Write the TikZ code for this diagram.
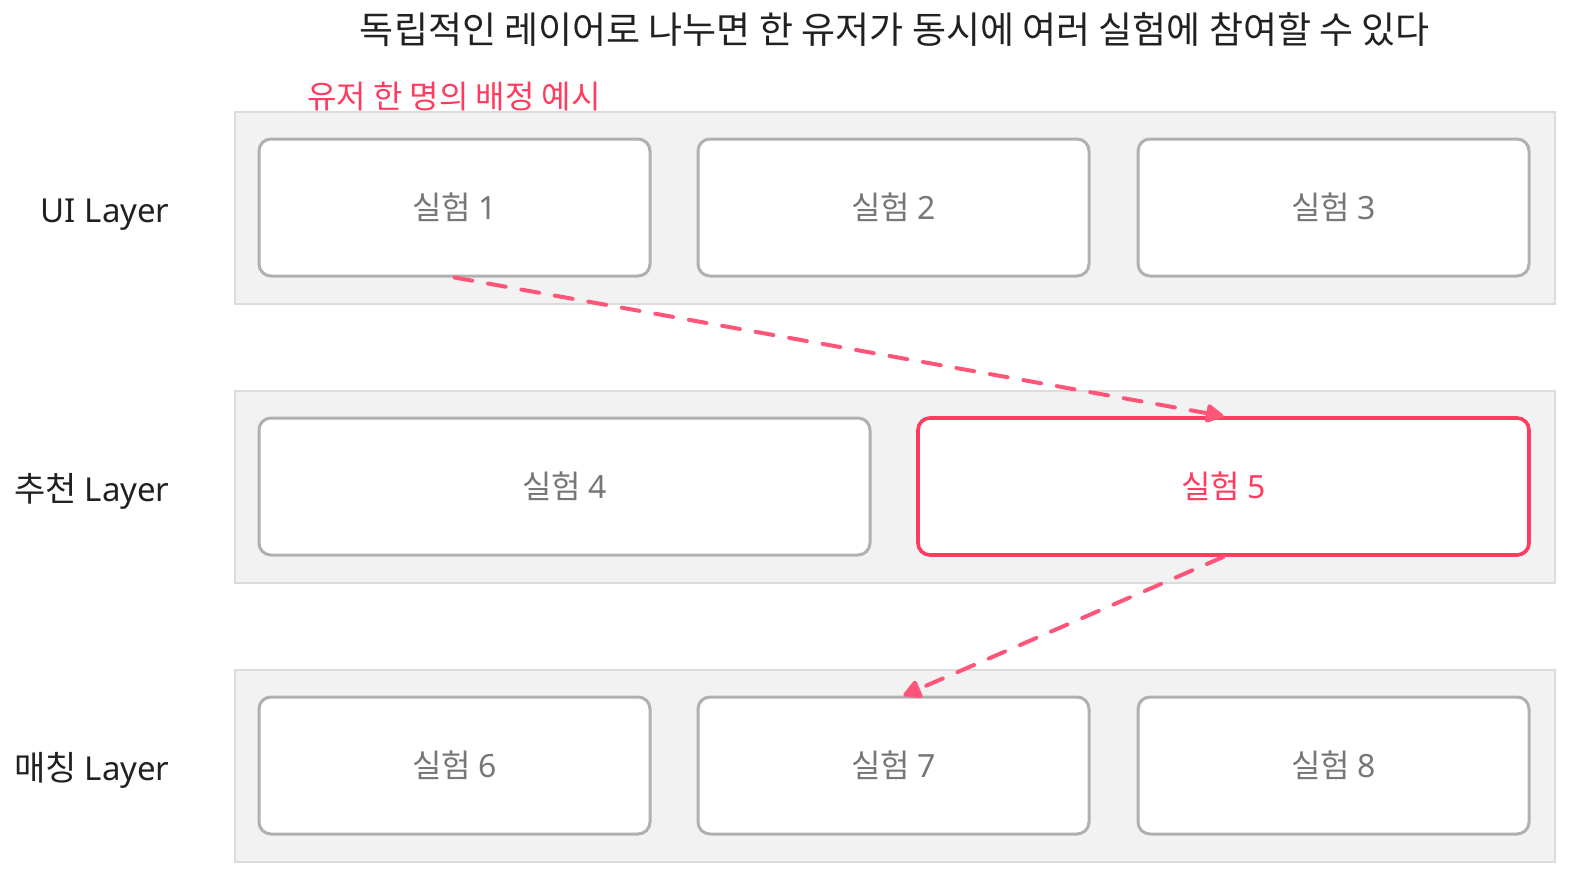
\documentclass[tikz,border=0pt]{standalone}
\usepackage{fontspec}
\setmainfont{Noto Sans CJK KR}
\newfontfamily\latinfont{Noto Sans}
\usetikzlibrary{positioning,arrows.meta,calc}
\definecolor{layerfill}{HTML}{F2F2F2}
\definecolor{layerline}{HTML}{DCDCDC}
\definecolor{boxline}{HTML}{B0B0B0}
\definecolor{boxtext}{HTML}{777777}
\definecolor{pickred}{HTML}{FF3B5F}
\definecolor{arrowred}{HTML}{FF5578}

\begin{document}
\begin{tikzpicture}[x=0.5pt,y=-0.5pt,
  layer/.style={draw=layerline,fill=layerfill,line width=1pt,minimum width=660pt,minimum height=96pt},
  expbox/.style={draw=boxline,fill=white,line width=1.5pt,rounded corners=6pt,minimum height=68.5pt,text=boxtext,font=\fontsize{16}{19}\selectfont},
  narrow/.style={expbox,minimum width=195.5pt},
  wide/.style={expbox,minimum width=305.5pt},
  layername/.style={anchor=base east,inner sep=0pt,text=black!87,font=\fontsize{17}{20}\selectfont},
  pick/.style={dash pattern=on 9pt off 8pt,line cap=round,line width=2pt,arrowred,-{Triangle[length=10pt,width=10pt,round]}}]
  \useasboundingbox (0,0) rectangle (1582,884);
  \node [text=black!87,font=\fontsize{18.5}{22}\selectfont] (title) at (895,30) {독립적인 레이어로 나누면 한 유저가 동시에 여러 실험에 참여할 수 있다};
  \node [text=pickred,font=\fontsize{16}{19}\selectfont] (note) at (454,97) {유저 한 명의 배정 예시};
  % layers
  \node [layer] (ui) at (895,208) {};
  \node [layer] (rec) at (895,487) {};
  \node [layer] (match) at (895,766) {};
  \node [layername] (uiname) at (170,222) {{\latinfont\fontsize{16.5}{20}\selectfont UI Layer}};
  \node [layername] (recname) at (170,501) {추천 {\latinfont\fontsize{16.5}{20}\selectfont Layer}};
  \node [layername] (matchname) at (170,780) {매칭 {\latinfont\fontsize{16.5}{20}\selectfont Layer}};
  % experiments
  \node [narrow] (e1) at (454.5,207.5) {실험 {\latinfont 1}};
  \node [narrow] (e2) at (893.5,207.5) {실험 {\latinfont 2}};
  \node [narrow] (e3) at (1333.5,207.5) {실험 {\latinfont 3}};
  \node [wide] (e4) at (564.5,486.5) {실험 {\latinfont 4}};
  \node [wide,draw=pickred,line width=1.8pt,text=pickred] (e5) at (1223.5,486.5) {실험 {\latinfont 5}};
  \node [narrow] (e6) at (454.5,765.5) {실험 {\latinfont 6}};
  \node [narrow] (e7) at (893.5,765.5) {실험 {\latinfont 7}};
  \node [narrow] (e8) at (1333.5,765.5) {실험 {\latinfont 8}};
  \draw [pick] (e1.south) to (e5.north);
  \draw [pick] (e5.south) to ($(e7.north)+(10,0)$);
\end{tikzpicture}
\end{document}
